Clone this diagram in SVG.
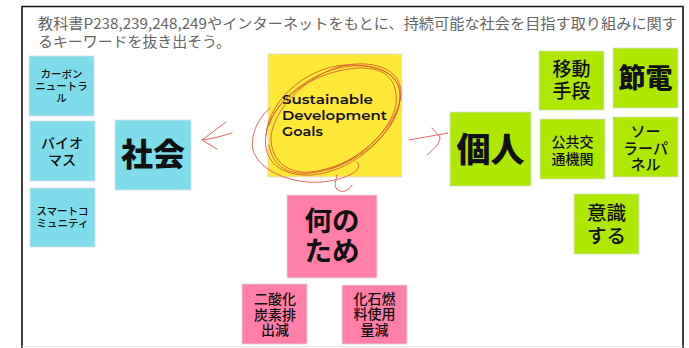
<svg xmlns="http://www.w3.org/2000/svg" width="689" height="348" viewBox="0 0 689 348">
<style>
.s{stroke:#d8dde0;stroke-width:.8}
.c{fill:#7fdcea}.y{fill:#ffe838}.p{fill:#ff7fa9}.g{fill:#aee800}
text{font-family:"Noto Sans CJK JP","Liberation Sans",sans-serif;fill:#111;text-anchor:middle;font-weight:500}
.en{text-anchor:start;font-family:Montserrat,Inter,"Liberation Sans",sans-serif;font-weight:600;font-size:12.500px}
.pr{text-anchor:start;fill:#666;font-weight:400;font-size:14.500px}
.b{font-weight:900}
.h{fill:none;stroke:#e2574f;stroke-width:.9;stroke-linecap:round;stroke-linejoin:round}
.o{fill:none;stroke:#d9602f;stroke-width:.9;stroke-linecap:round}
</style>
<rect width="689" height="348" fill="#fff"/>
<g id="frame"><path d="M22 348V6.500H683V348" fill="none" stroke="#111" stroke-width="1.600"/><path d="M22 346.500H683" stroke="#e6e6e6" stroke-width="1"/></g>
<g id="prompt"><text x="38" y="29" class="pr" textLength="639" lengthAdjust="spacingAndGlyphs">教科書P238,239,248,249やインターネットをもとに、持続可能な社会を目指す取り組みに関す</text><text x="38" y="47" class="pr" textLength="193" lengthAdjust="spacingAndGlyphs">るキーワードを抜き出そう。</text></g>
<g id="n-carbon"><rect class="c s" x="29" y="56" width="65" height="60"/><text font-size="10.500"><tspan x="61.500" y="78">カーボン</tspan><tspan x="61.500" y="90">ニュートラ</tspan><tspan x="61.500" y="102">ル</tspan></text></g>
<g id="n-bio"><rect class="c s" x="30" y="121" width="65" height="60"/><text font-size="14"><tspan x="62" y="148">バイオ</tspan><tspan x="62" y="165">マス</tspan></text></g>
<g id="n-smart"><rect class="c s" x="30" y="188" width="65" height="59"/><text font-size="10.500"><tspan x="62.500" y="215">スマートコ</tspan><tspan x="62.500" y="227">ミュニティ</tspan></text></g>
<g id="n-society"><rect class="c s" x="115" y="120" width="76" height="70"/><text x="153" y="166" font-size="32" class="b">社会</text></g>
<g id="n-sdgs"><rect class="y s" x="268" y="54" width="134" height="123"/><text class="en" x="282" y="104" textLength="91" lengthAdjust="spacingAndGlyphs">Sustainable</text><text class="en" x="282" y="120" textLength="105" lengthAdjust="spacingAndGlyphs">Development</text><text class="en" x="282" y="136" textLength="41" lengthAdjust="spacingAndGlyphs">Goals</text></g>
<g id="n-why"><rect class="p s" x="287" y="195" width="90" height="83"/><text font-size="27.500" style="font-weight:700"><tspan x="332" y="231">何の</tspan><tspan x="332" y="261">ため</tspan></text></g>
<g id="n-co2"><rect class="p s" x="242" y="284" width="65" height="60"/><text font-size="14"><tspan x="275" y="304">二酸化</tspan><tspan x="275" y="320">炭素排</tspan><tspan x="275" y="335">出減</tspan></text></g>
<g id="n-fossil"><rect class="p s" x="342" y="285" width="65" height="59"/><text font-size="14"><tspan x="374.500" y="304">化石燃</tspan><tspan x="374.500" y="319">料使用</tspan><tspan x="374.500" y="335">量減</tspan></text></g>
<g id="n-person"><rect class="g s" x="450" y="112" width="81" height="74"/><text x="490.500" y="162" font-size="34" class="b">個人</text></g>
<g id="n-move"><rect class="g s" x="539" y="51" width="65" height="59"/><text font-size="19"><tspan x="571.500" y="76">移動</tspan><tspan x="571.500" y="98">手段</tspan></text></g>
<g id="n-save"><rect class="g s" x="613" y="48" width="65" height="60"/><text x="645.500" y="88" font-size="27" class="b">節電</text></g>
<g id="n-public"><rect class="g s" x="540" y="119" width="65" height="60"/><text font-size="14"><tspan x="572.500" y="147">公共交</tspan><tspan x="572.500" y="164">通機関</tspan></text></g>
<g id="n-solar"><rect class="g s" x="613" y="117" width="65" height="60"/><text font-size="15"><tspan x="645.500" y="137">ソー</tspan><tspan x="645.500" y="154">ラーパ</tspan><tspan x="645.500" y="170">ネル</tspan></text></g>
<g id="n-aware"><rect class="g s" x="574" y="194" width="65" height="60"/><text font-size="19.500"><tspan x="606.500" y="220">意識</tspan><tspan x="606.500" y="243">する</tspan></text></g>
<g id="connectors">
<path class="o" d="M266 135C268 100 310 62 355 65C395 67 405 85 398 108C388 140 350 172 312 175C280 177 262 160 266 135C270 102 315 68 352 66C385 64 402 78 400 100C396 135 355 165 318 172C288 178 272 165 269 145"/>
<path class="o" d="M269 125C280 92 322 70 358 68C388 67 398 82 396 104C390 135 352 168 310 172C285 174 270 158 271 136C275 105 312 72 346 65C380 60 402 72 401 95C398 125 360 160 328 170"/>
<path class="h" d="M270 108C253 122 249 145 255 155C266 176 300 184 322 182C345 180 365 170 357 162"/>
<path class="h" d="M337 175C336 181 334 184 336 188C339 193 347 193 352 185"/>
<path class="h" d="M232 133C222 136 212 139 202 140M226 122L202 140L217 149"/>
<path class="h" d="M409 140C425 137 438 135 448 133M432 128L440 137C440 143 435 148 427 155"/>
</g>
</svg>
